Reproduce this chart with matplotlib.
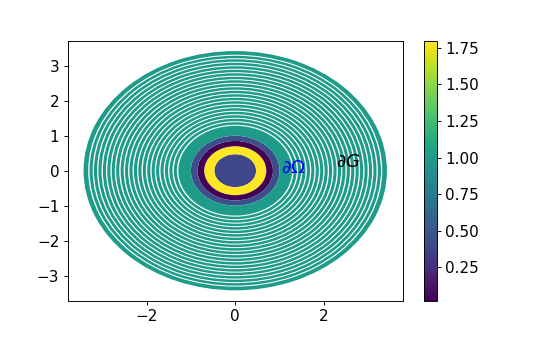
import numpy as np
import matplotlib
matplotlib.use("Agg")
import matplotlib.pyplot as plt
from matplotlib.patches import Wedge
from matplotlib.collections import PatchCollection

# inner annuli: outer radius and value
inner_radii = [0.47, 0.70, 0.85, 1.00, 1.28]
inner_values = [0.40, 1.80, 0.02, 0.45, 1.00]

# outer rings (value ~1.0) separated by thin gaps at these radii
gap_radii = [1.30, 1.40, 1.50, 1.60, 1.70, 1.80, 1.90, 2.00, 2.10, 2.20, 2.30,
             2.40, 2.50, 2.60, 2.70, 2.80, 2.90, 3.00, 3.10, 3.20, 3.30]
ring_value = 1.0
outer_radius = 3.42
gap_width = 0.03

# build annuli (inner edge, outer edge, value)
patches = []
vals = []
r0 = 0.0
for r, v in zip(inner_radii, inner_values):
    patches.append(Wedge((0, 0), r, 0, 360, width=r - r0 if r0 > 0 else None))
    vals.append(v)
    r0 = r
for g in gap_radii:
    r1 = g - gap_width / 2
    patches.append(Wedge((0, 0), r1, 0, 360, width=r1 - r0))
    vals.append(ring_value)
    r0 = g + gap_width / 2
patches.append(Wedge((0, 0), outer_radius, 0, 360, width=outer_radius - r0))
vals.append(ring_value)

plt.rcParams["font.size"] = 13
fig = plt.figure(figsize=(6.4, 4), dpi=84.5)
ax = fig.add_subplot(111)
pc = PatchCollection(patches, cmap="viridis", linewidth=0)
pc.set_array(np.array(vals))
pc.set_clim(0.02, 1.8)
ax.add_collection(pc)
cb = fig.colorbar(pc, ax=ax)
cb.set_ticks([0.25, 0.5, 0.75, 1.0, 1.25, 1.5, 1.75])
ax.text(1.03, 0.08, r"$\partial\Omega$", color="blue", fontsize=15.5, va="center")
ax.text(2.27, 0.26, r"$\partial G$", color="black", fontsize=15.5, va="center")
ax.set_xlim(-3.78, 3.78)
ax.set_ylim(-3.72, 3.72)
ax.set_xticks([-2, 0, 2])
fig.savefig("out.png", dpi=84.5)
